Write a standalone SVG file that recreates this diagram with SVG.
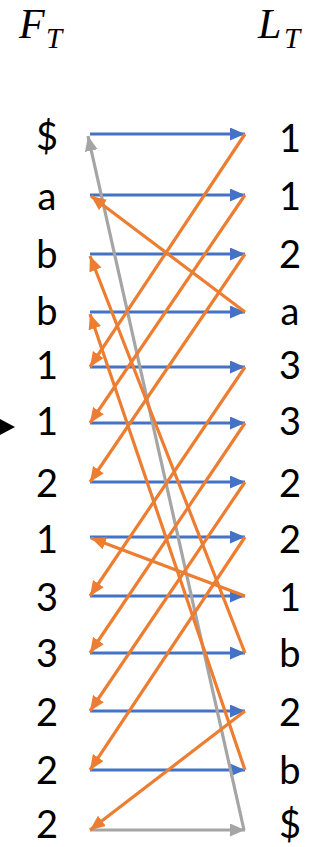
<svg xmlns="http://www.w3.org/2000/svg" width="329" height="847" viewBox="0 0 329 847">
<style>
.lbl{font-family:Lato,"Open Sans","Noto Sans",sans-serif;font-size:38px;fill:#000;text-anchor:middle}
.hdr{font-family:"Liberation Serif","DejaVu Serif",serif;font-style:italic;fill:#000}
.b{stroke:#4472C4;stroke-width:3.2;fill:none;marker-end:url(#mb)}
.o{stroke:#ED7D31;stroke-width:3.2;fill:none;marker-end:url(#mo)}
.g{stroke:#A5A5A5;stroke-width:3.2;fill:none;marker-end:url(#mg)}
</style>
<defs>
<marker id="mb" markerUnits="userSpaceOnUse" markerWidth="16" markerHeight="14" refX="15" refY="6.5" orient="auto"><path d="M0,0 L15,6.5 L0,13 z" fill="#4472C4"/></marker>
<marker id="mo" markerUnits="userSpaceOnUse" markerWidth="16" markerHeight="14" refX="15" refY="6.5" orient="auto"><path d="M0,0 L15,6.5 L0,13 z" fill="#ED7D31"/></marker>
<marker id="mg" markerUnits="userSpaceOnUse" markerWidth="16" markerHeight="14" refX="15" refY="6.5" orient="auto"><path d="M0,0 L15,6.5 L0,13 z" fill="#A5A5A5"/></marker>
</defs>
<g id="headers">
<text class="hdr" x="19" y="38" font-size="42">F</text><text class="hdr" x="46" y="48" font-size="29">T</text>
<text class="hdr" x="258" y="38" font-size="42">L</text><text class="hdr" x="284" y="48" font-size="29">T</text>
</g>
<g id="pointer"><path d="M0,419 L15,427 L0,435 z" fill="#000"/></g>
<g id="F">
<g id="f0"><text class="lbl" x="47" y="150">$</text></g>
<g id="f1"><text class="lbl" x="47" y="210">a</text></g>
<g id="f2"><text class="lbl" x="47" y="268">b</text></g>
<g id="f3"><text class="lbl" x="47" y="325">b</text></g>
<g id="f4"><text class="lbl" x="47" y="379">1</text></g>
<g id="f5"><text class="lbl" x="47" y="435">1</text></g>
<g id="f6"><text class="lbl" x="47" y="497">2</text></g>
<g id="f7"><text class="lbl" x="47" y="553">1</text></g>
<g id="f8"><text class="lbl" x="47" y="611">3</text></g>
<g id="f9"><text class="lbl" x="47" y="667">3</text></g>
<g id="f10"><text class="lbl" x="47" y="726">2</text></g>
<g id="f11"><text class="lbl" x="47" y="784">2</text></g>
<g id="f12"><text class="lbl" x="47" y="838">2</text></g>
</g>
<g id="L">
<g id="l0"><text class="lbl" x="290" y="152">1</text></g>
<g id="l1"><text class="lbl" x="290" y="210">1</text></g>
<g id="l2"><text class="lbl" x="290" y="268">2</text></g>
<g id="l3"><text class="lbl" x="290" y="325">a</text></g>
<g id="l4"><text class="lbl" x="290" y="379">3</text></g>
<g id="l5"><text class="lbl" x="290" y="435">3</text></g>
<g id="l6"><text class="lbl" x="290" y="497">2</text></g>
<g id="l7"><text class="lbl" x="290" y="553">2</text></g>
<g id="l8"><text class="lbl" x="290" y="611">1</text></g>
<g id="l9"><text class="lbl" x="290" y="667">b</text></g>
<g id="l10"><text class="lbl" x="290" y="726">2</text></g>
<g id="l11"><text class="lbl" x="290" y="784">b</text></g>
<g id="l12"><text class="lbl" x="290" y="838">$</text></g>
</g>
<g id="connectors">
<line class="b" x1="90" y1="134" x2="245" y2="134"/>
<line class="b" x1="90" y1="195" x2="245" y2="195"/>
<line class="b" x1="90" y1="254" x2="245" y2="254"/>
<line class="b" x1="90" y1="312" x2="245" y2="312"/>
<line class="b" x1="90" y1="367" x2="245" y2="367"/>
<line class="b" x1="90" y1="423" x2="245" y2="423"/>
<line class="b" x1="90" y1="482" x2="245" y2="482"/>
<line class="b" x1="90" y1="537" x2="245" y2="537"/>
<line class="b" x1="90" y1="596" x2="245" y2="596"/>
<line class="b" x1="90" y1="653" x2="245" y2="653"/>
<line class="b" x1="90" y1="711" x2="245" y2="711"/>
<line class="b" x1="90" y1="770" x2="245" y2="770"/>
<line class="g" x1="90" y1="830" x2="245" y2="830"/>
<line class="g" x1="244" y1="830" x2="88" y2="136"/>
<line class="o" x1="245" y1="134" x2="90" y2="367"/>
<line class="o" x1="245" y1="195" x2="90" y2="423"/>
<line class="o" x1="245" y1="254" x2="90" y2="482"/>
<line class="o" x1="245" y1="312" x2="91" y2="196"/>
<line class="o" x1="245" y1="367" x2="90" y2="596"/>
<line class="o" x1="245" y1="423" x2="90" y2="653"/>
<line class="o" x1="245" y1="482" x2="90" y2="711"/>
<line class="o" x1="245" y1="537" x2="90" y2="770"/>
<line class="o" x1="245" y1="596" x2="91" y2="538"/>
<line class="o" x1="245" y1="653" x2="90" y2="256"/>
<line class="o" x1="245" y1="711" x2="90" y2="830"/>
<line class="o" x1="245" y1="770" x2="90" y2="314"/>
</g>
</svg>
